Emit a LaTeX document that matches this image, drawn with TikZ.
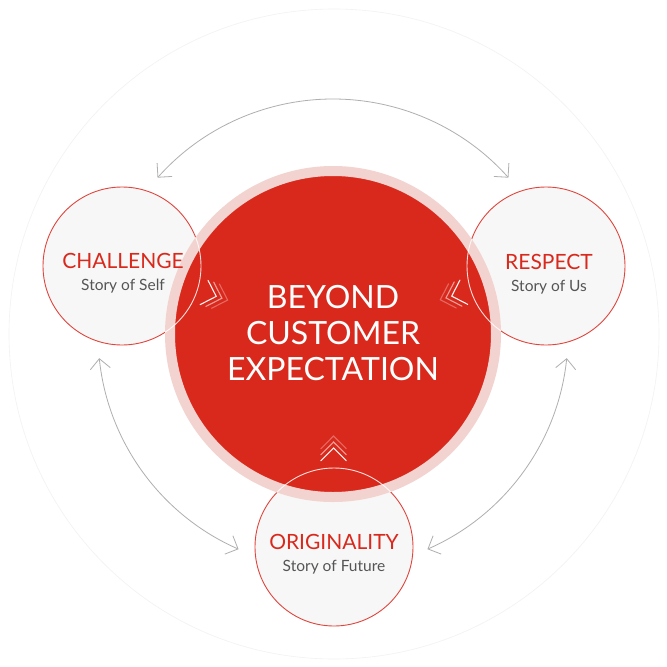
\documentclass[tikz,border=0pt]{standalone}
\usepackage{fontspec}
\setmainfont{Lato}
\usetikzlibrary{arrows.meta,calc}
\definecolor{brandred}{HTML}{D9291C}
\definecolor{ringpink}{HTML}{F2D3CF}
\definecolor{satfill}{HTML}{F7F7F7}
\definecolor{satline}{HTML}{E0453D}
\definecolor{subgray}{HTML}{555555}
\definecolor{arcgray}{HTML}{AFAFAF}
\definecolor{outergray}{HTML}{F2F2F2}
\begin{document}
\begin{tikzpicture}[x=1pt,y=-1pt,
  sat/.style={circle, minimum size=158pt, inner sep=0pt, fill=satfill, draw=satline, line width=0.9pt},
  hub/.style={circle, minimum size=326pt, inner sep=0pt, fill=brandred, draw=ringpink, line width=10pt},
  conn/.style={draw=arcgray, line width=0.8pt, {Straight Barb[length=10pt,width=20pt]}-{Straight Barb[length=10pt,width=20pt]}},
  chev/.style={draw=white, line width=1.1pt, line cap=round, line join=miter},
  hubtext/.style={text=white, font=\fontsize{32}{36}\selectfont, anchor=base, inner sep=0pt},
  title/.style={text=brandred, font=\fontsize{21}{24}\selectfont, anchor=base, inner sep=0pt},
  subtitle/.style={text=subgray, font=\fontsize{15.5}{18}\selectfont, anchor=base, inner sep=0pt}]
\useasboundingbox (0,0) rectangle (667,667);
\fill[white] (0,0) rectangle (667,667);
% outer faint ring
\coordinate (oc) at (334,334);
\draw[outergray, line width=0.6pt] (oc) circle[radius=325];
% connectors
\coordinate (c) at (333,334);
\coordinate (a1) at ($(c)+(221.7:235)$);
\coordinate (a2) at ($(c)+(174.1:235)$);
\coordinate (a3) at ($(c)+(5.9:235)$);
\draw[conn] (a1) arc[start angle=221.7, end angle=318.3, radius=235];
\draw[conn] (a2) arc[start angle=174.1, end angle=113.7, radius=235];
\draw[conn] (a3) arc[start angle=5.9, end angle=66.3, radius=235];
% satellites
\node[sat] (chal) at (122,266) {};
\node[sat] (resp) at (546,266) {};
\node[sat] (orig) at (334,547) {};
% hub
\node[hub] (main) at (c) {};
% satellite outlines over hub
\begin{scope}
\clip (main.center) circle[radius=168];
\foreach \s in {chal,resp,orig}
  \draw[white, opacity=0.85, line width=0.9pt] (\s.center) circle[radius=79];
\end{scope}
% chevrons
\foreach \s in {chal,resp,orig}{
  \foreach \d/\o in {99/0.95,105/0.55,111/0.3}{
    \coordinate (t) at ($(\s.center)!\d pt!(main.center)$);
    \draw[chev, opacity=\o] ($(t)!18pt!45:(\s.center)$) -- (t) -- ($(t)!18pt!-45:(\s.center)$);
  }
}
% hub text
\node[hubtext] (t1) at (333,308) {BEYOND};
\node[hubtext] (t2) at (333,344) {CUSTOMER};
\node[hubtext] (t3) at (333,380) {EXPECTATION};
% satellite text
\node[title] (chalT) at (123,268) {CHALLENGE};
\node[subtitle] (chalS) at (123,290) {Story of Self};
\node[title] (respT) at (549,269) {RESPECT};
\node[subtitle] (respS) at (549,291) {Story of Us};
\node[title] (origT) at (334,549) {ORIGINALITY};
\node[subtitle] (origS) at (334,571) {Story of Future};
\end{tikzpicture}
\end{document}
